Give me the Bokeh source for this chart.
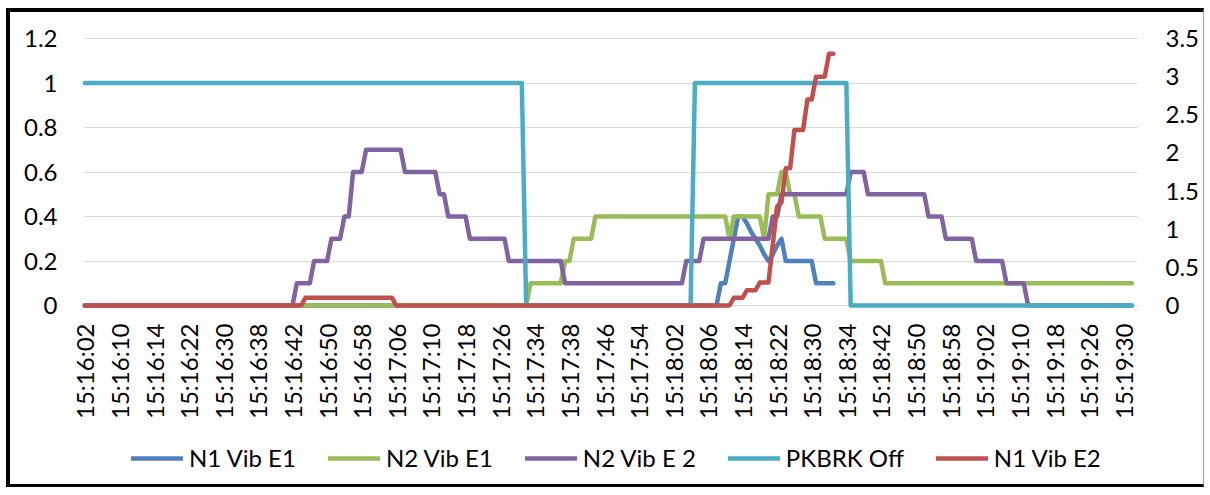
import math
import numpy as np
from bokeh.plotting import figure
from bokeh.models import (Range1d, LinearAxis, FixedTicker, NumeralTickFormatter,
                          Legend, LegendItem, ColumnDataSource)
from bokeh.core.properties import value
from bokeh.embed import file_html
from bokeh.resources import INLINE

nan = float("nan")

# ---- category axis (one row per logged sample) ----
n_rows = 243
label_step = 8
tick_labels = ["15:16:02", "15:16:10", "15:16:14", "15:16:22", "15:16:30", "15:16:38",
               "15:16:42", "15:16:50", "15:16:58", "15:17:06", "15:17:10", "15:17:18",
               "15:17:26", "15:17:34", "15:17:38", "15:17:46", "15:17:54", "15:18:02",
               "15:18:06", "15:18:14", "15:18:22", "15:18:30", "15:18:34", "15:18:42",
               "15:18:50", "15:18:58", "15:19:02", "15:19:10", "15:19:18", "15:19:26",
               "15:19:30"]

# ---- series, as (value, number of consecutive rows) ----
n1_vib_e1_vals = [0, 0.1, 0.2, 0.3, 0.4, 0.37, 0.33, 0.3, 0.27, 0.23, 0.2, 0.23, 0.27, 0.3, 0.2, 0.1, nan]
n1_vib_e1_runs = [147, 2, 1, 1, 2, 1, 1, 1, 1, 1, 1, 1, 1, 1, 7, 5, 69]

n2_vib_e1_vals = [0, 0.1, 0.2, 0.3, 0.4, 0.3, 0.4, 0.3, 0.5, 0.6, 0.5, 0.4, 0.3, 0.2, 0.1]
n2_vib_e1_runs = [103, 8, 2, 5, 31, 1, 7, 1, 3, 2, 2, 6, 6, 8, 58]

n2_vib_e2_vals = [0, 0.1, 0.2, 0.3, 0.4, 0.6, 0.7, 0.6, 0.5, 0.4, 0.3, 0.2, 0.1, 0.2, 0.3, 0.4,
                  0.5, 0.6, 0.5, 0.4, 0.3, 0.2, 0.1, 0]
n2_vib_e2_runs = [49, 4, 4, 3, 2, 3, 9, 8, 2, 5, 9, 13, 28, 4, 16, 2, 16, 4, 14, 4, 7, 7, 5, 25]

pkbrk_off_vals = [1, 0, 1, 0]
pkbrk_off_runs = [102, 39, 36, 66]

n1_vib_e2_vals = [0, 0.1, 0, 0.1, 0.2, 0.3, 0.8, 1.3, 1.35, 1.8, 2.3, 2.7, 3.0, 3.3, nan]
n1_vib_e2_runs = [51, 21, 78, 3, 3, 3, 1, 1, 1, 2, 3, 2, 3, 2, 69]

left_ticks = [0, 0.2, 0.4, 0.6, 0.8, 1.0, 1.2]
right_ticks = [0, 0.5, 1.0, 1.5, 2.0, 2.5, 3.0, 3.5]


def expand(vals, runs):
    return np.repeat(np.array(vals, dtype=float), runs)


x = np.arange(n_rows)
series = [
    ("N1 Vib E1", expand(n1_vib_e1_vals, n1_vib_e1_runs), "#4F81BD", "default"),
    ("N2 Vib E1", expand(n2_vib_e1_vals, n2_vib_e1_runs), "#9BBB59", "default"),
    ("N2 Vib E 2", expand(n2_vib_e2_vals, n2_vib_e2_runs), "#8064A2", "default"),
    ("PKBRK Off", expand(pkbrk_off_vals, pkbrk_off_runs), "#4BACC6", "default"),
    ("N1 Vib E2", expand(n1_vib_e2_vals, n1_vib_e2_runs), "#C0504D", "right"),
]

FONT = "Lato"
FSIZE = "24px"

# ---- geometry (canvas pixels) ----
W, H = 1198, 479
frame_left, frame_right, frame_top, frame_bottom = 52, 1140, 23, 479
first_cat_px = 74.3      # canvas x of the first category
ppu_x = 4.327            # pixels per category
grid_x0_px, grid_x1_px = 74.0, 1127.0
grid_top_px = 3          # 1.2 gridline sits 3px below the frame top
plot_h = 267             # pixels between the 0 and 1.2 gridlines
left_max, right_max = 1.2, 3.5
ppu_left = plot_h / left_max
ppu_right = plot_h / right_max
frame_h = frame_bottom - frame_top
left_top = left_max + grid_top_px / ppu_left
right_top = right_max + grid_top_px / ppu_right

x_start = -(first_cat_px - frame_left) / ppu_x
x_end = x_start + (frame_right - frame_left) / ppu_x
grid_x0 = (grid_x0_px - first_cat_px) / ppu_x
grid_x1 = (grid_x1_px - first_cat_px) / ppu_x

p = figure(width=W, height=H,
           x_range=Range1d(x_start, x_end),
           y_range=Range1d(left_top - frame_h / ppu_left, left_top),
           output_backend="svg", toolbar_location=None,
           x_axis_location=None,
           min_border_left=frame_left, min_border_right=W - frame_right,
           min_border_top=frame_top, min_border_bottom=H - frame_bottom)
p.styles = {"margin-left": "6px", "margin-top": "8px",
            "border-left": "4px solid black", "border-top": "4px solid black",
            "border-bottom": "3px solid black", "border-right": "1px solid #a0a0a0"}
p.extra_y_ranges = {"right": Range1d(right_top - frame_h / ppu_right, right_top)}
p.outline_line_color = None
p.background_fill_color = "white"
p.border_fill_color = "white"

# left axis + horizontal gridlines
p.yaxis.ticker = FixedTicker(ticks=left_ticks)
p.yaxis.formatter = NumeralTickFormatter(format="0.[0]")
p.ygrid.ticker = FixedTicker(ticks=left_ticks)
p.ygrid.grid_line_color = "#d9d9d9"
p.ygrid.grid_line_width = 1.2
p.xgrid.grid_line_color = None
try:
    p.ygrid.cross_bounds = (grid_x0, grid_x1)
except Exception:
    p.ygrid.grid_line_color = None
    p.segment(x0=[grid_x0] * len(left_ticks), x1=[grid_x1] * len(left_ticks),
              y0=left_ticks, y1=left_ticks, line_color="#d9d9d9", line_width=1.2)

# right axis
raxis = LinearAxis(y_range_name="right", ticker=FixedTicker(ticks=right_ticks),
                   formatter=NumeralTickFormatter(format="0.[0]"))
p.add_layout(raxis, "right")

for ax in [p.yaxis[0], raxis]:
    ax.axis_line_color = None
    ax.major_tick_line_color = None
    ax.minor_tick_line_color = None
    ax.major_tick_out = 0
    ax.major_tick_in = 0
    ax.major_label_text_font = FONT
    ax.major_label_text_font_size = FSIZE
    ax.major_label_text_color = "black"
p.yaxis.major_label_standoff = 5
raxis.major_label_standoff = 15

# category labels under the 0 line (vertical, reading upwards)
tick_pos = list(range(0, n_rows - 2, label_step))
label_src = ColumnDataSource(dict(x=tick_pos, y=[-18 / ppu_left] * len(tick_pos),
                                  text=tick_labels))
p.text(x="x", y="y", text="text", source=label_src, angle=math.pi / 2,
       text_align="right", text_baseline="middle", text_font=value(FONT),
       text_font_size=value(FSIZE), text_color="black")

items = []
for name, y, color, rng in series:
    r = p.line(x, y, line_color=color, line_width=4.5, line_join="round",
               line_cap="round", y_range_name=rng)
    items.append(LegendItem(label=name, renderers=[r]))

legend = Legend(items=items, orientation="horizontal", location=(69, 19),
                glyph_width=52, glyph_height=20, label_standoff=6, spacing=32,
                padding=5, margin=0, border_line_color=None,
                background_fill_alpha=0,
                label_text_font=FONT, label_text_font_size=FSIZE,
                label_text_color="black")
p.add_layout(legend, "center")

open("out.html", "w").write(file_html(p, INLINE))
